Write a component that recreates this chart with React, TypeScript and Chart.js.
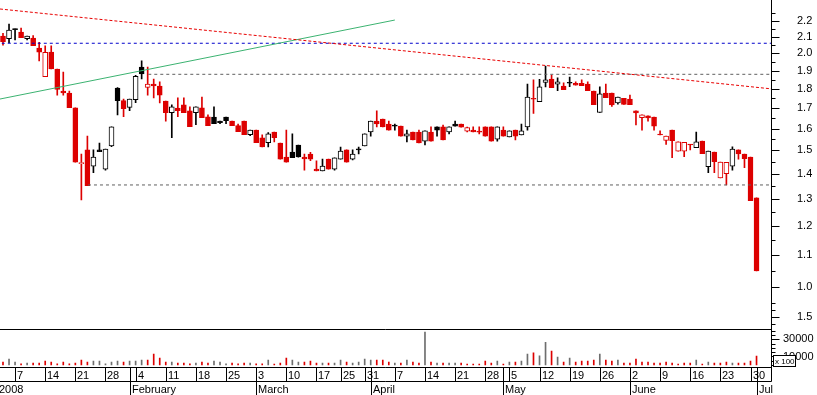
import React, { useEffect, useRef } from "react";
import { Chart, registerables } from "chart.js";

Chart.register(...registerables);

// ---- Daily prices (trading days 3 Jan 2008 .. 1 Jul 2008) ----
const opens = [
  2.105, 2.088, 2.15, 2.13, 2.088, 2.092, 2.031, 1.866, 2.007, 1.909,
  1.788, 1.778, 1.702, 1.442, 1.502, 1.432, 1.502, 1.419, 1.52, 1.804,
  1.738, 1.704, 1.743, 1.92, 1.808, 1.826, 1.815, 1.736, 1.677, 1.7,
  1.716, 1.686, 1.677, 1.702, 1.657, 1.656, 1.636, 1.656, 1.636, 1.614,
  1.636, 1.571, 1.593, 1.557, 1.535, 1.584, 1.533, 1.471, 1.493, 1.524,
  1.47, 1.484, 1.419, 1.411, 1.462, 1.419, 1.462, 1.502, 1.462, 1.502,
  1.52, 1.584, 1.636, 1.646, 1.622, 1.612, 1.612, 1.565, 1.584, 1.584,
  1.542, 1.584, 1.608, 1.608, 1.584, 1.622, 1.622, 1.588, 1.593, 1.588,
  1.608, 1.608, 1.551, 1.593, 1.561, 1.593, 1.57, 1.608, 1.748, 1.733,
  1.835, 1.853, 1.825, 1.815, 1.835, 1.83, 1.83, 1.826, 1.788, 1.679,
  1.778, 1.778, 1.726, 1.75, 1.746, 1.686, 1.652, 1.661, 1.656, 1.571,
  1.545, 1.593, 1.497, 1.497, 1.525, 1.512, 1.542, 1.429, 1.493, 1.383,
  1.4, 1.432, 1.502, 1.484, 1.471, 1.303,
];
const highs = [
  2.121, 2.181, 2.15, 2.155, 2.105, 2.107, 2.066, 2.045, 2.045, 1.909,
  1.892, 1.788, 1.702, 1.484, 1.565, 1.502, 1.533, 1.506, 1.608, 1.807,
  1.746, 1.746, 1.874, 1.955, 1.92, 1.853, 1.837, 1.736, 1.716, 1.752,
  1.752, 1.706, 1.706, 1.757, 1.666, 1.706, 1.636, 1.656, 1.636, 1.622,
  1.636, 1.593, 1.593, 1.571, 1.581, 1.584, 1.533, 1.593, 1.575, 1.524,
  1.484, 1.491, 1.454, 1.462, 1.462, 1.467, 1.515, 1.502, 1.502, 1.515,
  1.575, 1.636, 1.686, 1.646, 1.636, 1.622, 1.612, 1.593, 1.584, 1.593,
  1.589, 1.608, 1.608, 1.617, 1.608, 1.636, 1.622, 1.607, 1.608, 1.608,
  1.608, 1.608, 1.608, 1.608, 1.589, 1.593, 1.622, 1.826, 1.848, 1.851,
  1.926, 1.875, 1.859, 1.832, 1.864, 1.837, 1.848, 1.837, 1.788, 1.81,
  1.826, 1.778, 1.757, 1.75, 1.767, 1.686, 1.666, 1.661, 1.656, 1.589,
  1.565, 1.593, 1.538, 1.536, 1.527, 1.584, 1.542, 1.497, 1.493, 1.449,
  1.448, 1.516, 1.502, 1.484, 1.471, 1.303,
];
const lows = [
  2.049, 2.063, 2.08, 2.094, 2.08, 2.045, 1.955, 1.866, 1.909, 1.767,
  1.767, 1.702, 1.449, 1.295, 1.351, 1.404, 1.494, 1.415, 1.517, 1.666,
  1.657, 1.687, 1.727, 1.853, 1.767, 1.752, 1.726, 1.636, 1.557, 1.657,
  1.677, 1.609, 1.619, 1.652, 1.614, 1.623, 1.623, 1.623, 1.614, 1.585,
  1.571, 1.567, 1.535, 1.516, 1.516, 1.538, 1.462, 1.449, 1.468, 1.47,
  1.415, 1.455, 1.411, 1.411, 1.419, 1.415, 1.462, 1.449, 1.458, 1.484,
  1.52, 1.565, 1.608, 1.608, 1.593, 1.593, 1.565, 1.538, 1.547, 1.533,
  1.524, 1.542, 1.565, 1.547, 1.575, 1.612, 1.607, 1.584, 1.584, 1.575,
  1.565, 1.542, 1.542, 1.565, 1.561, 1.547, 1.57, 1.593, 1.674, 1.733,
  1.81, 1.806, 1.79, 1.795, 1.811, 1.819, 1.817, 1.79, 1.717, 1.679,
  1.753, 1.708, 1.72, 1.719, 1.718, 1.617, 1.593, 1.636, 1.593, 1.57,
  1.527, 1.468, 1.497, 1.472, 1.502, 1.512, 1.485, 1.404, 1.404, 1.383,
  1.354, 1.415, 1.462, 1.425, 1.292, 1.05,
];
const closes = [
  2.07, 2.142, 2.145, 2.094, 2.105, 2.045, 2.007, 2.005, 1.909, 1.797,
  1.778, 1.702, 1.449, 1.447, 1.351, 1.471, 1.494, 1.506, 1.608, 1.738,
  1.697, 1.746, 1.868, 1.881, 1.826, 1.815, 1.767, 1.677, 1.706, 1.687,
  1.677, 1.609, 1.706, 1.652, 1.614, 1.623, 1.628, 1.638, 1.614, 1.585,
  1.571, 1.593, 1.535, 1.516, 1.575, 1.557, 1.462, 1.449, 1.468, 1.471,
  1.463, 1.461, 1.411, 1.432, 1.419, 1.467, 1.497, 1.449, 1.484, 1.502,
  1.575, 1.636, 1.622, 1.608, 1.593, 1.612, 1.565, 1.575, 1.547, 1.533,
  1.589, 1.542, 1.593, 1.547, 1.608, 1.612, 1.607, 1.605, 1.584, 1.583,
  1.565, 1.542, 1.608, 1.565, 1.589, 1.565, 1.589, 1.757, 1.745, 1.81,
  1.848, 1.806, 1.837, 1.795, 1.83, 1.819, 1.817, 1.79, 1.717, 1.773,
  1.753, 1.716, 1.757, 1.719, 1.718, 1.676, 1.666, 1.651, 1.612, 1.57,
  1.565, 1.544, 1.538, 1.536, 1.524, 1.538, 1.485, 1.497, 1.451, 1.449,
  1.448, 1.506, 1.484, 1.464, 1.292, 1.05,
];
// volume in shares (axis shown "x 100")
const volumes = [
  3470, 6940, 3470, 1540, 2310, 2310, 2310, 4620, 3470, 1540,
  3470, 1540, 2310, 5780, 3470, 4620, 4620, 1540, 3470, 4620,
  3470, 4620, 4620, 5780, 5780, 12700, 8100, 3470, 3470, 2310,
  2310, 1540, 2310, 3470, 2310, 4620, 3470, 1540, 2310, 1540,
  2310, 2310, 1540, 1540, 5780, 1160, 2310, 8090, 5780, 3470,
  3470, 4620, 2310, 2310, 2310, 2310, 5780, 3470, 2310, 3470,
  6940, 5780, 5780, 5780, 3470, 2310, 2310, 5780, 3470, 2310,
  38500, 3470, 2310, 2310, 2310, 2310, 2310, 1160, 1160, 1160,
  4620, 2310, 4620, 1160, 3470, 3470, 4620, 12700, 14260, 10800,
  26600, 16200, 9250, 3470, 8090, 3470, 4620, 4620, 5780, 12700,
  5780, 4620, 5780, 2310, 2310, 6940, 3470, 3470, 2310, 2310,
  3470, 2310, 1160, 2310, 2310, 5780, 1160, 3470, 2310, 2310,
  3470, 2310, 2310, 2310, 4620, 10400,
];

// ---- Reference lines (day index, price) ----
const supportTop = 2.06;
const resistance = 1.879;
const resistanceStart = 24.1;
const support = 1.354;
const supportStart = 14.1;
const redTrend = [
  { x: -0.5, y: 2.28 },
  { x: 127.4, y: 1.8 },
];
const greenTrend = [
  { x: -0.5, y: 1.7464 },
  { x: 65.0, y: 2.2066 },
];

// ---- Axis ranges and ticks ----
const X_MIN = -0.4977;
const X_MAX = 127.4;
const P_MIN = 0.88305;
const P_MAX = 2.3415;
const V_MIN = -2312;
const V_MAX = 41850;

const priceTickValues = [0.915, 1.0, 1.1, 1.2, 1.3, 1.4, 1.5, 1.6, 1.7, 1.8, 1.9, 2.0, 2.1, 2.2];
const priceTickLabels = ["1.5", "1.0", "1.1", "1.2", "1.3", "1.4", "1.5", "1.6", "1.7", "1.8", "1.9", "2.0", "2.1", "2.2"];
const priceMinorTicks = [0.897, 0.935, 0.955, 1.05, 1.15, 1.25, 1.35, 1.45, 1.55, 1.65, 1.75, 1.85, 1.95, 2.05, 2.15, 2.25];
const volumeTickValues = [10000, 30000];
const volumeTickLabels = ["10000", "30000"];
const volumeMinorTicks = [0, 5000, 15000, 20000, 25000, 35000, 40000];

const weekTickIndex = [2, 7, 12, 17, 22, 27, 32, 37, 42, 47, 52, 56, 60, 65, 70, 75, 80, 84, 89, 94, 99, 104, 109, 114, 119, 124];
const weekTickLabels = ["7", "14", "21", "28", "4", "11", "18", "25", "3", "10", "17", "25", "31", "7", "14", "21", "28", "5", "12", "19", "26", "2", "9", "16", "23", "30"];
const monthTickIndex = [0, 21, 42, 61, 83, 104, 125];
const monthTickLabels = ["2008", "February", "March", "April", "May", "June", "Jul"];

const RED = "#dd0000";
const BLACK = "#000000";
const VOL_GRAY = "#6e6e6e";
const FONT = '"Liberation Sans", Arial, sans-serif';

const decorPlugin = {
  id: "decor",
  afterDraw(chart: any) {
    const ctx = chart.ctx as CanvasRenderingContext2D;
    const xs = chart.scales.x;
    const ys = chart.scales.y;
    const vs = chart.scales.yv;
    const R = Math.round(xs.right) + 0.5;
    const row1 = Math.round(xs.top) + 0.5;
    const row2 = row1 + 14;
    const bottom = chart.height;
    ctx.save();
    ctx.strokeStyle = "#000";
    ctx.lineWidth = 1;
    const seg = (x0: number, y0: number, x1: number, y1: number) => {
      ctx.beginPath();
      ctx.moveTo(x0, y0);
      ctx.lineTo(x1, y1);
      ctx.stroke();
    };
    const sep = Math.round(vs.top) + 0.5;
    seg(0, sep, R, sep);
    seg(0, row1, R, row1);
    seg(0, row2, R, row2);
    seg(R, 0, R, row2);

    ctx.font = "11px " + FONT;
    ctx.fillStyle = "#000";
    ctx.textAlign = "left";
    ctx.textBaseline = "alphabetic";
    weekTickIndex.forEach((d, k) => {
      const px = Math.round(xs.getPixelForValue(d)) + 0.5;
      seg(px, row1, px, row2);
      ctx.fillText(weekTickLabels[k], px + 1.5, row1 + 11);
    });
    monthTickIndex.forEach((d, k) => {
      if (k === 0) {
        ctx.fillText(monthTickLabels[k], -1, row2 + 11);
        return;
      }
      const px = Math.round(xs.getPixelForValue(d)) + 0.5;
      seg(px, row1, px, bottom);
      ctx.fillText(monthTickLabels[k], px + 1.5, row2 + 11);
    });

    priceTickValues.forEach((v) => {
      const py = Math.round(ys.getPixelForValue(v)) + 0.5;
      seg(R, py, R + 8, py);
    });
    priceMinorTicks.forEach((v) => {
      const py = Math.round(ys.getPixelForValue(v)) + 0.5;
      seg(R, py, R + 4, py);
    });
    volumeTickValues.forEach((v) => {
      const py = Math.round(vs.getPixelForValue(v)) + 0.5;
      seg(R, py, R + 8, py);
    });
    volumeMinorTicks.forEach((v) => {
      const py = Math.round(vs.getPixelForValue(v)) + 0.5;
      seg(R, py, R + 4, py);
    });

    // "x 100" multiplier box
    const bx = Math.round(xs.right) + 2;
    const by = Math.round(vs.bottom) - 12;
    ctx.fillStyle = "#fff";
    ctx.fillRect(bx, by, 22, 11);
    ctx.strokeRect(bx + 0.5, by + 0.5, 22, 11);
    ctx.fillStyle = "#000";
    ctx.font = "8px " + FONT;
    ctx.fillText("x 100", bx + 2, by + 9);
    ctx.restore();
  },
};

export default function App() {
  const ref = useRef<HTMLCanvasElement>(null);
  useEffect(() => {
    document.body.style.margin = "0";
    const idx = closes.map((_, i) => i);
    const up = closes.map((c, i) => (i === 0 ? c >= opens[0] : c >= closes[i - 1]));
    const lineCol = up.map((u) => (u ? BLACK : RED));
    const bodyFill = closes.map((c, i) => (c > opens[i] ? "#ffffff" : lineCol[i]));
    const volCol = up.map((u) => (u ? VOL_GRAY : RED));

    const hLine = (price: number, start: number, color: string) => ({
      type: "line" as const,
      data: [
        { x: start, y: price },
        { x: X_MAX, y: price },
      ],
      borderColor: color,
      borderWidth: 1,
      borderDash: [3, 3],
      pointRadius: 0,
      fill: false,
      tension: 0,
      yAxisID: "y",
      order: 0,
    });

    const chart = new Chart(ref.current as HTMLCanvasElement, {
      type: "bar",
      data: {
        datasets: [
          {
            type: "line",
            data: redTrend,
            borderColor: "#e80000",
            borderWidth: 1,
            borderDash: [3, 2],
            pointRadius: 0,
            fill: false,
            yAxisID: "y",
            order: 0,
          } as any,
          {
            type: "line",
            data: greenTrend,
            borderColor: "#3cb371",
            borderWidth: 1,
            pointRadius: 0,
            fill: false,
            yAxisID: "y",
            order: 0,
          } as any,
          hLine(supportTop, -0.2, "#0000cc") as any,
          hLine(resistance, resistanceStart, "#606060") as any,
          hLine(support, supportStart, "#606060") as any,
          {
            type: "bar",
            data: idx.map((i) => ({ x: i, y: [opens[i], closes[i]] })),
            backgroundColor: bodyFill,
            borderColor: lineCol,
            borderWidth: 1,
            borderSkipped: false,
            barThickness: 5,
            minBarLength: 1,
            grouped: false,
            yAxisID: "y",
            order: 1,
          } as any,
          {
            type: "bar",
            data: idx.map((i) => ({ x: i, y: [lows[i], highs[i]] })),
            backgroundColor: lineCol,
            borderWidth: 0,
            barThickness: 1,
            minBarLength: 1,
            grouped: false,
            yAxisID: "y",
            order: 2,
          } as any,
          {
            type: "bar",
            data: idx.map((i) => ({ x: i, y: volumes[i] })),
            backgroundColor: volCol,
            borderWidth: 0,
            barThickness: 1,
            grouped: false,
            yAxisID: "yv",
            order: 3,
          } as any,
        ],
      },
      options: {
        animation: false,
        responsive: false,
        devicePixelRatio: 1,
        events: [],
        layout: { padding: 0 },
        font: { family: FONT, size: 11 },
        plugins: { legend: { display: false }, tooltip: { enabled: false } },
        scales: {
          x: {
            type: "linear",
            min: X_MIN,
            max: X_MAX,
            offset: false,
            bounds: "data",
            grid: { display: false },
            border: { display: false },
            ticks: { display: false },
            afterFit: (s: any) => {
              s.height = 28;
              s.paddingLeft = 0;
              s.paddingRight = 0;
            },
          },
          y: {
            type: "logarithmic",
            position: "right",
            stack: "panes",
            stackWeight: 329.3,
            min: P_MIN,
            max: P_MAX,
            bounds: "data",
            grid: { display: false, drawTicks: false },
            border: { display: false },
            ticks: {
              autoSkip: false,
              padding: 26,
              color: "#000",
              font: { family: FONT, size: 11 },
              callback: (_v: any, i: number) => priceTickLabels[i] ?? "",
            },
            afterBuildTicks: (s: any) => {
              s.ticks = priceTickValues.map((v) => ({ value: v }));
            },
            afterFit: (s: any) => {
              s.width = 46;
              s.paddingTop = 0;
              s.paddingBottom = 0;
            },
          },
          yv: {
            type: "linear",
            position: "right",
            stack: "panes",
            stackWeight: 37.7,
            min: V_MIN,
            max: V_MAX,
            bounds: "data",
            grid: { display: false, drawTicks: false },
            border: { display: false },
            ticks: {
              autoSkip: false,
              padding: 12,
              color: "#000",
              font: { family: FONT, size: 11 },
              callback: (_v: any, i: number) => volumeTickLabels[i] ?? "",
            },
            afterBuildTicks: (s: any) => {
              s.ticks = volumeTickValues.map((v) => ({ value: v }));
            },
            afterFit: (s: any) => {
              s.width = 46;
              s.paddingTop = 0;
              s.paddingBottom = 0;
            },
          },
        },
      } as any,
      plugins: [decorPlugin],
    });
    return () => chart.destroy();
  }, []);

  return (
    <div style={{ position: "fixed", left: 0, top: 0, width: 817, height: 395, background: "#fff" }}>
      <canvas ref={ref} width={817} height={395} style={{ display: "block", width: 817, height: 395 }} />
    </div>
  );
}
